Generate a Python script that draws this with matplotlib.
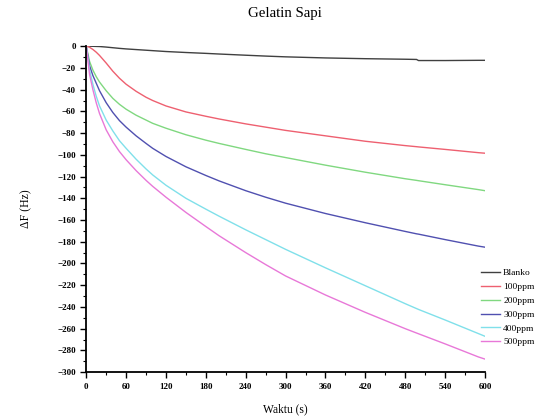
import matplotlib
matplotlib.use("Agg")
import matplotlib.pyplot as plt
from matplotlib.ticker import MultipleLocator

t = [0, 5, 10, 15, 20, 30, 40, 50, 60, 75, 90, 100, 120, 150, 180, 200, 240, 270,
     300, 360, 420, 480, 497, 500, 540, 590, 600]
blanko = [0, 0, -0.1, -0.2, -0.3, -0.8, -1.4, -2, -2.5, -3.1, -3.7, -4.1, -4.9, -5.8, -6.6, -7.2,
          -8.3, -9.1, -9.8, -10.8, -11.5, -12, -12.2, -13.2, -13.2, -13, -13]
ppm100 = [0, -1, -3, -5.5, -8.5, -15.5, -23, -29.5, -35, -41.5, -47, -50, -55, -60.5, -64.5, -67,
          -71.5, -74.5, -77.5, -82.5, -87.5, -91.5, -92.5, -92.7, -95, -98, -98.5]
ppm200 = [0, -14, -22, -28, -33, -41, -48, -53.5, -58, -63.5, -68, -71, -75.5, -81.5, -86.5, -89.5,
          -95, -99, -102.5, -109.5, -116, -122, -123.5, -123.8, -127.5, -132, -133]
ppm300 = [0, -18, -27, -34, -41, -52, -61, -68.5, -74.5, -82.5, -89.5, -94, -101.5, -111, -119, -124,
          -133, -139, -144.5, -154, -162.5, -170.5, -172.7, -173, -178, -184, -185]
ppm400 = [0, -22, -35, -46, -55, -68, -78, -87, -94, -104, -113, -118.5, -128, -140, -150, -156.5,
          -169, -178, -187, -204, -220.5, -237, -241.5, -242.3, -252, -264.5, -267]
ppm500 = [0, -26, -40, -52, -62, -77, -88, -97, -104.5, -114.5, -123.5, -129, -139, -153, -166, -174.5,
          -190, -201, -211.5, -229, -245, -260, -264, -264.7, -274, -286, -288]

labels = ["Blanko", "100ppm", "200ppm", "300ppm", "400ppm", "500ppm"]
colors = ["#404040", "#ee6070", "#80d880", "#5050b0", "#80e0ea", "#e878d8"]
series = [blanko, ppm100, ppm200, ppm300, ppm400, ppm500]

plt.rcParams['font.family'] = ['Liberation Serif', 'DejaVu Serif']

fig = plt.figure(figsize=(5.6, 4.2), dpi=100)
ax = fig.add_axes([0.154, 0.114, 0.712, 0.776])

for s, c, l in zip(series, colors, labels):
    ax.plot(t, s, color=c, lw=1.0, label=l)

ax.set_xlim(0, 600)
ax.set_ylim(-300, 0)
ax.xaxis.set_major_locator(MultipleLocator(60))
ax.xaxis.set_minor_locator(MultipleLocator(30))
ax.yaxis.set_major_locator(MultipleLocator(20))
ax.yaxis.set_minor_locator(MultipleLocator(10))
ax.tick_params(axis='both', which='major', direction='out', length=4, width=1, labelsize=6.5)
ax.tick_params(axis='both', which='minor', direction='out', length=2, width=0.8)
for lab in ax.get_xticklabels() + ax.get_yticklabels():
    lab.set_fontweight('bold')
ax.spines['top'].set_visible(False)
ax.spines['right'].set_visible(False)
ax.spines['left'].set_linewidth(1.3)
ax.spines['bottom'].set_linewidth(1.3)

fig.text(0.509, 1 - 13 / 420, "Gelatin Sapi", fontsize=10.7, ha='center', va='center')
ax.set_xlabel("Waktu (s)", fontsize=8.3, labelpad=9)
ax.set_ylabel("ΔF (Hz)", fontsize=8.5, labelpad=18)

leg = ax.legend(loc='upper left', bbox_to_anchor=(0.99, 0.317), frameon=False,
                fontsize=6.8, handlelength=2.0, handletextpad=0.35, labelspacing=0.55,
                borderaxespad=0, borderpad=0)

fig.savefig("out.png", dpi=100)
